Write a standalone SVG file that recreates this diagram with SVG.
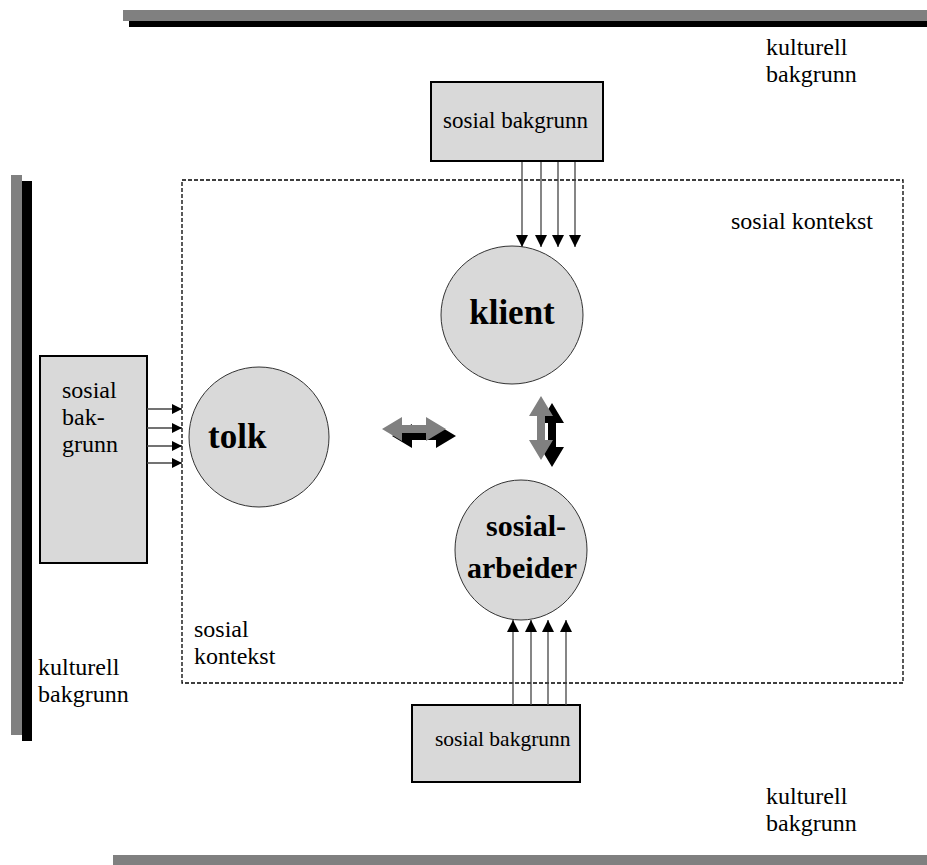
<svg xmlns="http://www.w3.org/2000/svg" width="927" height="865" viewBox="0 0 927 865">
<style>
.t{font-family:"Liberation Serif","Times New Roman",serif;font-size:24px;fill:#000}
.b{font-family:"Liberation Serif","Times New Roman",serif;font-size:30px;font-weight:bold;fill:#000}
.bb{font-family:"Liberation Serif","Times New Roman",serif;font-size:35px;font-weight:bold;fill:#000}
.box{fill:#d9d9d9;stroke:#000;stroke-width:2}
.node{fill:#d9d9d9;stroke:#333;stroke-width:1}
.ln{stroke:#444;stroke-width:1.3;fill:none}
</style>
<defs>
<marker id="ah" viewBox="0 0 12 12" refX="12" refY="6" markerWidth="12" markerHeight="12" markerUnits="userSpaceOnUse" orient="auto">
<path d="M0,0 L12,6 L0,12 Z" fill="#000"/>
</marker>
<marker id="ahs" viewBox="0 0 10 10" refX="10" refY="5" markerWidth="10" markerHeight="10" markerUnits="userSpaceOnUse" orient="auto">
<path d="M0,0 L10,5 L0,10 Z" fill="#000"/>
</marker>
<path id="dbl" d="M0,0 L20,-12 L20,-4 L44,-4 L44,-12 L64,0 L44,12 L44,4 L20,4 L20,12 Z"/>
</defs>
<g id="bars">
<rect x="123" y="10" width="804" height="11" fill="#808080"/>
<rect x="129" y="21" width="798" height="6" fill="#000"/>
<rect x="11" y="175" width="11" height="560" fill="#808080"/>
<rect x="22" y="181" width="10" height="560" fill="#000"/>
<rect x="113" y="855" width="814" height="10" fill="#808080"/>
</g>
<g id="context">
<rect x="182" y="180" width="721" height="503" fill="none" stroke="#000" stroke-width="1.3" stroke-dasharray="4 2"/>
</g>
<g id="labels">
<text class="t" x="766" y="55">kulturell</text>
<text class="t" x="766" y="82">bakgrunn</text>
<text class="t" x="731" y="229">sosial kontekst</text>
<text class="t" x="194" y="637">sosial</text>
<text class="t" x="194" y="664">kontekst</text>
<text class="t" x="38" y="675">kulturell</text>
<text class="t" x="38" y="702">bakgrunn</text>
<text class="t" x="766" y="804">kulturell</text>
<text class="t" x="766" y="831">bakgrunn</text>
</g>
<g id="top-box">
<rect class="box" x="431" y="82" width="172" height="79"/>
<text class="t" x="443" y="128" style="font-size:23px">sosial bakgrunn</text>
</g>
<g id="left-box">
<rect class="box" x="40" y="356" width="107" height="207"/>
<text class="t" x="62" y="398">sosial</text>
<text class="t" x="62" y="425">bak-</text>
<text class="t" x="62" y="452">grunn</text>
</g>
<g id="bottom-box">
<rect class="box" x="412" y="705" width="168" height="77"/>
<text class="t" x="435" y="746" style="font-size:21.5px">sosial bakgrunn</text>
</g>
<g id="tolk">
<circle class="node" cx="259" cy="437" r="70"/>
<text class="bb" x="208" y="448">tolk</text>
</g>
<g id="klient">
<ellipse class="node" cx="512" cy="315" rx="71" ry="69"/>
<text class="bb" x="512" y="324" text-anchor="middle">klient</text>
</g>
<g id="sosialarbeider">
<ellipse class="node" cx="521" cy="550" rx="66" ry="70"/>
<text class="b" x="526" y="536" text-anchor="middle">sosial-</text>
<text class="b" x="522" y="578" text-anchor="middle">arbeider</text>
</g>
<g id="connectors">
<line class="ln" x1="522" y1="162" x2="522" y2="247" marker-end="url(#ah)"/>
<line class="ln" x1="541" y1="162" x2="541" y2="247" marker-end="url(#ah)"/>
<line class="ln" x1="558" y1="162" x2="558" y2="247" marker-end="url(#ah)"/>
<line class="ln" x1="575" y1="162" x2="575" y2="247" marker-end="url(#ah)"/>
<line class="ln" x1="513" y1="705" x2="513" y2="620" marker-end="url(#ah)"/>
<line class="ln" x1="531" y1="705" x2="531" y2="620" marker-end="url(#ah)"/>
<line class="ln" x1="548" y1="705" x2="548" y2="620" marker-end="url(#ah)"/>
<line class="ln" x1="566" y1="705" x2="566" y2="620" marker-end="url(#ah)"/>
<line class="ln" x1="147" y1="409" x2="182" y2="409" marker-end="url(#ahs)"/>
<line class="ln" x1="147" y1="428" x2="182" y2="428" marker-end="url(#ahs)"/>
<line class="ln" x1="147" y1="446" x2="182" y2="446" marker-end="url(#ahs)"/>
<line class="ln" x1="147" y1="463" x2="182" y2="463" marker-end="url(#ahs)"/>
<use href="#dbl" fill="#000" transform="translate(392,436)"/>
<use href="#dbl" fill="#808080" transform="translate(382,429)"/>
<use href="#dbl" fill="#000" transform="translate(552,403) rotate(90)"/>
<use href="#dbl" fill="#808080" transform="translate(541,396) rotate(90)"/>
</g>
</svg>
